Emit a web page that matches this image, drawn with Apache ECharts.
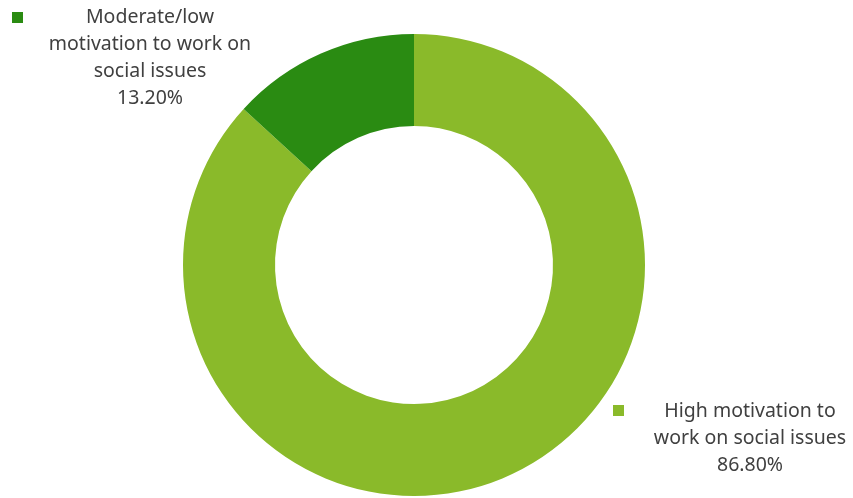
<!DOCTYPE html>
<html>
<head>
<meta charset="utf-8">
<script src="https://cdn.jsdelivr.net/npm/echarts@6/dist/echarts.min.js"></script>
<style>
  html, body { margin: 0; padding: 0; background: #ffffff; }
  #chart { width: 853px; height: 498px; }
</style>
</head>
<body>
<div id="chart"></div>
<script>
// Share of respondents by motivation level
const categories = [
  'High motivation to\nwork on social issues',
  'Moderate/low\nmotivation to work on\nsocial issues'
];
const shares = [86.8, 13.2];
const colors = ['#8aba2a', '#2a8b12'];

// Where each label block and its swatch sit
const labelSpots = [
  { x: 750, y: 398 },
  { x: 150, y: 4 }
];
const swatchSpots = [
  { left: 613, top: 405 },
  { left: 12, top: 12 }
];

const chart = echarts.init(document.getElementById('chart'));

chart.setOption({
  animation: false,
  color: colors,
  legend: categories.map((name, i) => ({
    data: [name],
    left: swatchSpots[i].left,
    top: swatchSpots[i].top,
    icon: 'rect',
    itemWidth: 11,
    itemHeight: 11,
    padding: 0,
    selectedMode: false,
    formatter: () => '',
    textStyle: { fontSize: 1 }
  })),
  series: [{
    type: 'pie',
    center: [414, 265],
    radius: [139, 231],
    startAngle: 90,
    clockwise: true,
    data: categories.map((name, i) => ({ name, value: shares[i] })),
    label: {
      show: true,
      position: 'outside',
      formatter: p => p.name + '\n' + p.value.toFixed(2) + '%',
      fontFamily: 'Noto Sans',
      fontSize: 19.5,
      lineHeight: 27,
      color: '#404040',
      align: 'center'
    },
    labelLine: { show: false },
    labelLayout: p => ({
      x: labelSpots[p.dataIndex].x,
      y: labelSpots[p.dataIndex].y,
      align: 'center',
      verticalAlign: 'top'
    }),
    emphasis: { disabled: true },
    itemStyle: { borderWidth: 0 }
  }]
});
</script>
</body>
</html>
